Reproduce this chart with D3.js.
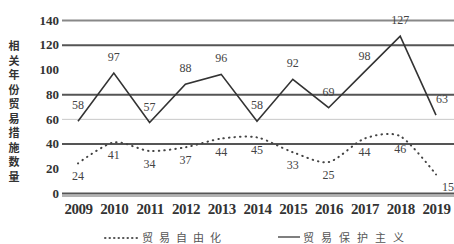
<!DOCTYPE html>
<html>
<head>
<meta charset="utf-8">
<script src="https://cdn.jsdelivr.net/npm/d3@7"></script>
<style>
  body { margin: 0; background: #fff; }
  svg { display: block; }
  .num { font-family: "Liberation Serif", "DejaVu Serif", serif; }
  .cjk { font-family: "Noto Sans CJK SC", sans-serif; }
</style>
</head>
<body>
<svg width="454" height="244"></svg>
<script>
var years = ["2009", "2010", "2011", "2012", "2013", "2014", "2015", "2016", "2017", "2018", "2019"];
var protection = [58, 97, 57, 88, 96, 58, 92, 69, 98, 127, 63];
var liberal = [24, 41, 34, 37, 44, 45, 33, 25, 44, 46, 15];
var yTicks = [0, 20, 40, 60, 80, 100, 120, 140];
var yLabel = "相关年份贸易措施数量";
var legendNames = ["贸易自由化", "贸易保护主义"];

var svg = d3.select("svg");

var x = d3.scalePoint()
  .domain(years)
  .range([78, 436]);

var y = d3.scaleLinear()
  .domain([0, 140])
  .range([193, 20]);

// grid lines (scan shows some darker than others)
var gridStyle = function(v) {
  if (v == 60) return { c: "#c8c8c8", w: 1 };
  if (v == 100 || v == 20) return { c: "none", w: 0 };
  if (v == 140) return { c: "#888", w: 2 };
  return { c: "#555", w: 2 };
};

var yAxis = d3.axisLeft(y)
  .tickValues(yTicks)
  .tickSize(-392)
  .tickPadding(3)
  .tickFormat(d3.format("d"));

var gy = svg.append("g")
  .attr("transform", "translate(62,0)")
  .call(yAxis);
gy.select(".domain").remove();
gy.selectAll(".tick line")
  .attr("stroke", function(d) { return gridStyle(d).c; })
  .attr("stroke-width", function(d) { return gridStyle(d).w; });
gy.selectAll(".tick text")
  .attr("class", "num")
  .attr("font-size", 13)
  .attr("font-weight", "bold")
  .attr("fill", "#333");

// second line under the x axis
svg.append("line")
  .attr("x1", 62).attr("x2", 454)
  .attr("y1", y(0) + 3).attr("y2", y(0) + 3)
  .attr("stroke", "#666")
  .attr("stroke-width", 1);

var xAxis = d3.axisBottom(x).tickSize(0).tickPadding(10);
var gx = svg.append("g")
  .attr("transform", "translate(0," + y(0) + ")")
  .call(xAxis);
gx.select(".domain").remove();
gx.selectAll(".tick text")
  .attr("class", "num")
  .attr("font-size", 15)
  .attr("font-weight", "bold")
  .attr("letter-spacing", -0.5)
  .attr("fill", "#333");

// lines
var solid = d3.line()
  .x(function(d, i) { return x(years[i]); })
  .y(function(d) { return y(d); });

var dotted = d3.line()
  .x(function(d, i) { return x(years[i]); })
  .y(function(d) { return y(d); })
  .curve(d3.curveCardinal.tension(0.2));

svg.append("path")
  .datum(protection)
  .attr("d", solid)
  .attr("fill", "none")
  .attr("stroke", "#333")
  .attr("stroke-width", 1.6);

svg.append("path")
  .datum(liberal)
  .attr("d", dotted)
  .attr("fill", "none")
  .attr("stroke", "#444")
  .attr("stroke-width", 2)
  .attr("stroke-linecap", "round")
  .attr("stroke-dasharray", "0.5,5");

var last = years.length - 1;

// value labels
svg.selectAll("text.pl")
  .data(protection)
  .enter().append("text")
  .attr("class", "pl num")
  .attr("x", function(d, i) { return x(years[i]) + (i == last ? 6 : 0); })
  .attr("y", function(d) { return y(d) - 12; })
  .attr("text-anchor", "middle")
  .attr("font-size", 12)
  .attr("fill", "#444")
  .text(function(d) { return d; });

svg.selectAll("text.ll")
  .data(liberal)
  .enter().append("text")
  .attr("class", "ll num")
  .attr("x", function(d, i) { return x(years[i]) + (i == last ? 12 : 0); })
  .attr("y", function(d) { return y(d) + 17; })
  .attr("text-anchor", "middle")
  .attr("font-size", 12)
  .attr("fill", "#444")
  .text(function(d) { return d; });

// vertical y label
svg.selectAll("text.yl")
  .data(yLabel.split(""))
  .enter().append("text")
  .attr("class", "yl cjk")
  .attr("x", 14)
  .attr("y", function(d, i) { return 50 + i * 14.5; })
  .attr("text-anchor", "middle")
  .attr("font-size", 11)
  .attr("font-weight", "bold")
  .attr("fill", "#333")
  .text(function(d) { return d; });

// legend
var lg = svg.append("g");
lg.append("line")
  .attr("x1", 105).attr("x2", 137)
  .attr("y1", 238).attr("y2", 238)
  .attr("stroke", "#555")
  .attr("stroke-width", 2)
  .attr("stroke-linecap", "round")
  .attr("stroke-dasharray", "0.5,4");
lg.append("text")
  .attr("class", "cjk")
  .attr("x", 142).attr("y", 242)
  .attr("font-size", 11)
  .attr("letter-spacing", 6)
  .attr("fill", "#555")
  .text(legendNames[0]);
lg.append("line")
  .attr("x1", 278).attr("x2", 300)
  .attr("y1", 237).attr("y2", 237)
  .attr("stroke", "#555")
  .attr("stroke-width", 1.5);
lg.append("text")
  .attr("class", "cjk")
  .attr("x", 303).attr("y", 242)
  .attr("font-size", 11)
  .attr("letter-spacing", 7)
  .attr("fill", "#555")
  .text(legendNames[1]);
</script>
</body>
</html>
